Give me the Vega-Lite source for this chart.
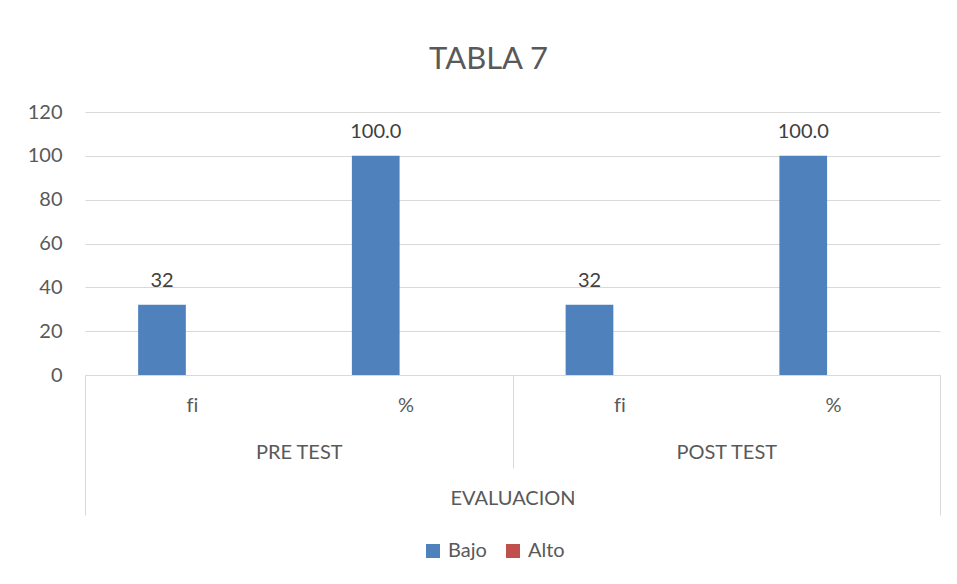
{
  "$schema": "https://vega.github.io/schema/vega-lite/v6.json",
  "width": 855,
  "height": 263,
  "autosize": {"type": "none"},
  "padding": {"left": 85, "top": 112, "right": 17, "bottom": 209},
  "background": "white",
  "title": {"text": "TABLA 7", "fontSize": 31, "font": "Lato", "fontWeight": "normal", "color": "#595959", "anchor": "middle", "dx": -24, "offset": 26},
  "data": {"values": [
    {"grupo": "PRE TEST", "medida": "fi", "clave": "PRE TEST|fi", "nivel": "Bajo", "valor": 32, "etiqueta": "32"},
    {"grupo": "PRE TEST", "medida": "fi", "clave": "PRE TEST|fi", "nivel": "Alto", "valor": 0, "etiqueta": ""},
    {"grupo": "PRE TEST", "medida": "%", "clave": "PRE TEST|%", "nivel": "Bajo", "valor": 100, "etiqueta": "100.0"},
    {"grupo": "PRE TEST", "medida": "%", "clave": "PRE TEST|%", "nivel": "Alto", "valor": 0, "etiqueta": ""},
    {"grupo": "POST TEST", "medida": "fi", "clave": "POST TEST|fi", "nivel": "Bajo", "valor": 32, "etiqueta": "32"},
    {"grupo": "POST TEST", "medida": "fi", "clave": "POST TEST|fi", "nivel": "Alto", "valor": 0, "etiqueta": ""},
    {"grupo": "POST TEST", "medida": "%", "clave": "POST TEST|%", "nivel": "Bajo", "valor": 100, "etiqueta": "100.0"},
    {"grupo": "POST TEST", "medida": "%", "clave": "POST TEST|%", "nivel": "Alto", "valor": 0, "etiqueta": ""}
  ]},
  "layer": [
    {
      "encoding": {
        "x": {
          "field": "clave", "type": "nominal",
          "scale": {"domain": ["PRE TEST|fi", "PRE TEST|%", "POST TEST|fi", "POST TEST|%"], "paddingInner": 0, "paddingOuter": 0},
          "axis": {
            "orient": "bottom", "title": "EVALUACION", "labelExpr": "datum.value ? replace(split(datum.value,'|')[1], 'fi', 'f\u200ci') : ''", "labelAngle": 0,
            "tickBand": "extent", "tickSize": 93, "labelPadding": -73, "titlePadding": 20,
            "tickColor": {"condition": {"test": "datum.value === 'PRE TEST|%'", "value": "#d9d9d9"}, "value": "transparent"},
            "grid": false, "domainColor": "#d9d9d9"
          }
        },
        "xOffset": {"field": "nivel", "type": "nominal", "scale": {"domain": ["Bajo", "Alto"], "paddingInner": 0.138, "paddingOuter": 1, "align": 0.48}},
        "y": {
          "field": "valor", "type": "quantitative",
          "scale": {"domain": [0, 120], "nice": false},
          "axis": {"values": [0, 20, 40, 60, 80, 100, 120], "title": null, "domain": false, "ticks": false, "labelPadding": 23, "grid": true}
        }
      },
      "layer": [
        {
          "mark": {"type": "bar"},
          "encoding": {
            "color": {
              "field": "nivel", "type": "nominal",
              "scale": {"domain": ["Bajo", "Alto"], "range": ["#4F81BD", "#C0504D"]},
              "legend": {"orient": "none", "legendX": 338, "legendY": 429, "direction": "horizontal", "title": null,
                "symbolType": "square", "symbolSize": 196, "labelFontSize": 20, "labelFont": "Lato", "labelColor": "#595959",
                "columnPadding": 16, "labelOffset": 5, "symbolStrokeWidth": 0}
            }
          }
        },
        {
          "transform": [{"filter": "datum.nivel === 'Bajo'"}],
          "mark": {"type": "text", "baseline": "alphabetic", "dy": -18, "fontSize": 20, "font": "Lato", "color": "#404040"},
          "encoding": {"text": {"field": "etiqueta", "type": "nominal"}}
        }
      ]
    },
    {
      "mark": {"type": "rule", "opacity": 0},
      "encoding": {
        "x": {
          "field": "grupo", "type": "nominal",
          "scale": {"domain": ["PRE TEST", "POST TEST"], "paddingInner": 0, "paddingOuter": 0},
          "axis": {
            "orient": "bottom", "title": null, "labelAngle": 0, "tickBand": "extent", "tickSize": 140, "labelPadding": -73,
            "labelExpr": "datum.value ? datum.value : ''",
            "tickColor": {"condition": {"test": "datum.value === 'PRE TEST'", "value": "transparent"}, "value": "#d9d9d9"},
            "domain": false, "grid": false
          }
        }
      }
    }
  ],
  "resolve": {"scale": {"x": "independent"}, "axis": {"x": "independent"}},
  "config": {
    "view": {"stroke": null},
    "axis": {"labelFont": "Lato", "labelColor": "#595959", "labelFontSize": 20, "titleFont": "Lato", "titleFontWeight": "normal", "titleColor": "#595959", "titleFontSize": 20, "domainColor": "#d9d9d9", "gridColor": "#d9d9d9", "tickColor": "#d9d9d9"}
  }
}
